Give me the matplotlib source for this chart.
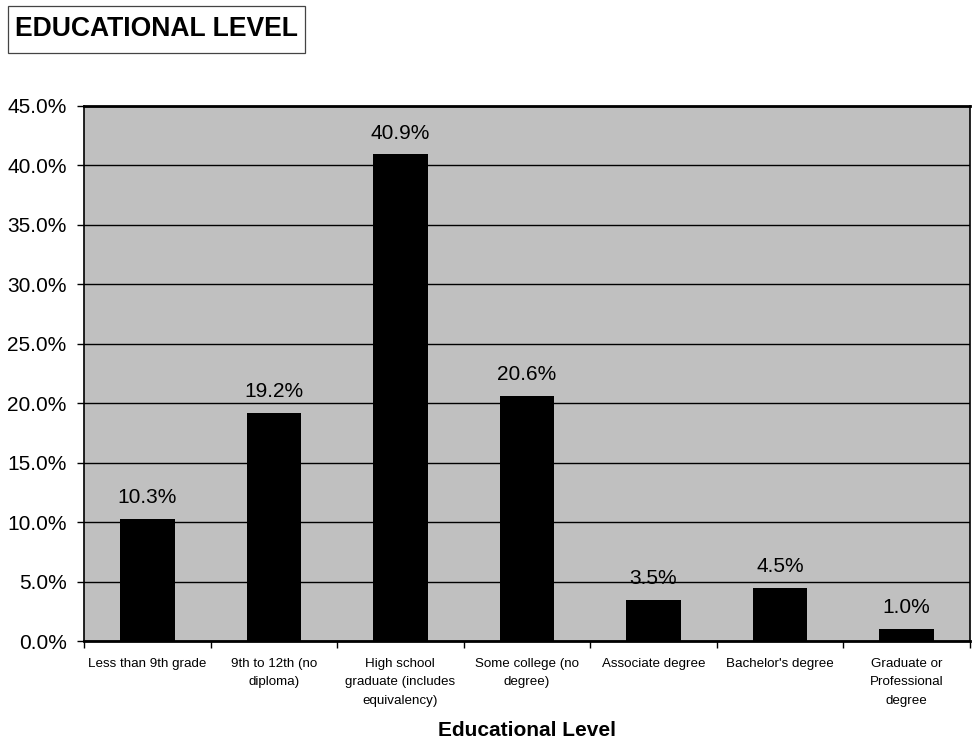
import matplotlib
matplotlib.use("Agg")
import matplotlib.pyplot as plt
from matplotlib.patches import Rectangle
from matplotlib.ticker import FuncFormatter, MultipleLocator

plt.rcParams['font.family'] = ['Liberation Sans', 'DejaVu Sans']

categories = ["Less than 9th grade", "9th to 12th (no\ndiploma)",
              "High school\ngraduate (includes\nequivalency)", "Some college (no\ndegree)",
              "Associate degree", "Bachelor's degree", "Graduate or\nProfessional\ndegree"]
values = [10.3, 19.2, 40.9, 20.6, 3.5, 4.5, 1.0]
value_labels = ["10.3%", "19.2%", "40.9%", "20.6%", "3.5%", "4.5%", "1.0%"]

fig = plt.figure(figsize=(9.72, 7.43), dpi=100)
ax = fig.add_axes([0.0865, 0.137, 0.911, 0.721])
ax.set_facecolor('#c0c0c0')

x = list(range(len(categories)))
ax.bar(x, values, width=0.43, color='black', zorder=3)
ax.set_xlim(-0.5, len(categories) - 0.5)
ax.set_ylim(0, 45)
ax.yaxis.set_major_locator(MultipleLocator(5))
ax.yaxis.set_major_formatter(FuncFormatter(lambda v, p: f"{v:.1f}%"))
ax.grid(axis='y', color='black', linewidth=1.0, zorder=1)
ax.set_axisbelow(True)

ax.set_xticks([i + 0.5 for i in range(-1, len(categories))], minor=False)
ax.set_xticklabels([])
ax.set_xticks(x, minor=True)
ax.set_xticklabels(categories, minor=True, fontsize=9.6, linespacing=1.72)
ax.tick_params(axis='x', which='minor', length=0, pad=12)
ax.tick_params(axis='x', which='major', length=5, direction='out', width=1)
ax.tick_params(axis='y', length=5, direction='out', labelsize=15, width=1, pad=7.5)

for s in ['left', 'right']:
    ax.spines[s].set_linewidth(1.2)
ax.spines['top'].set_linewidth(2.0)
ax.spines['bottom'].set_linewidth(2.0)

for xi, v, lab in zip(x, values, value_labels):
    ax.annotate(lab, (xi, v), xytext=(0, 8.5), textcoords='offset points',
                ha='center', va='bottom', fontsize=15, zorder=4)

ax.set_xlabel("Educational Level", fontsize=15, fontweight='bold', labelpad=10)

fig.patches.append(Rectangle((8 / 972, 1 - 53 / 743), 297 / 972, 47 / 743,
                             transform=fig.transFigure, facecolor='white',
                             edgecolor='#444444', linewidth=0.9))
fig.text(156.5 / 972, 1 - 28.5 / 743, "EDUCATIONAL LEVEL", fontsize=19.1, fontweight='bold',
         ha='center', va='center')

fig.savefig("out.png", dpi=100)
